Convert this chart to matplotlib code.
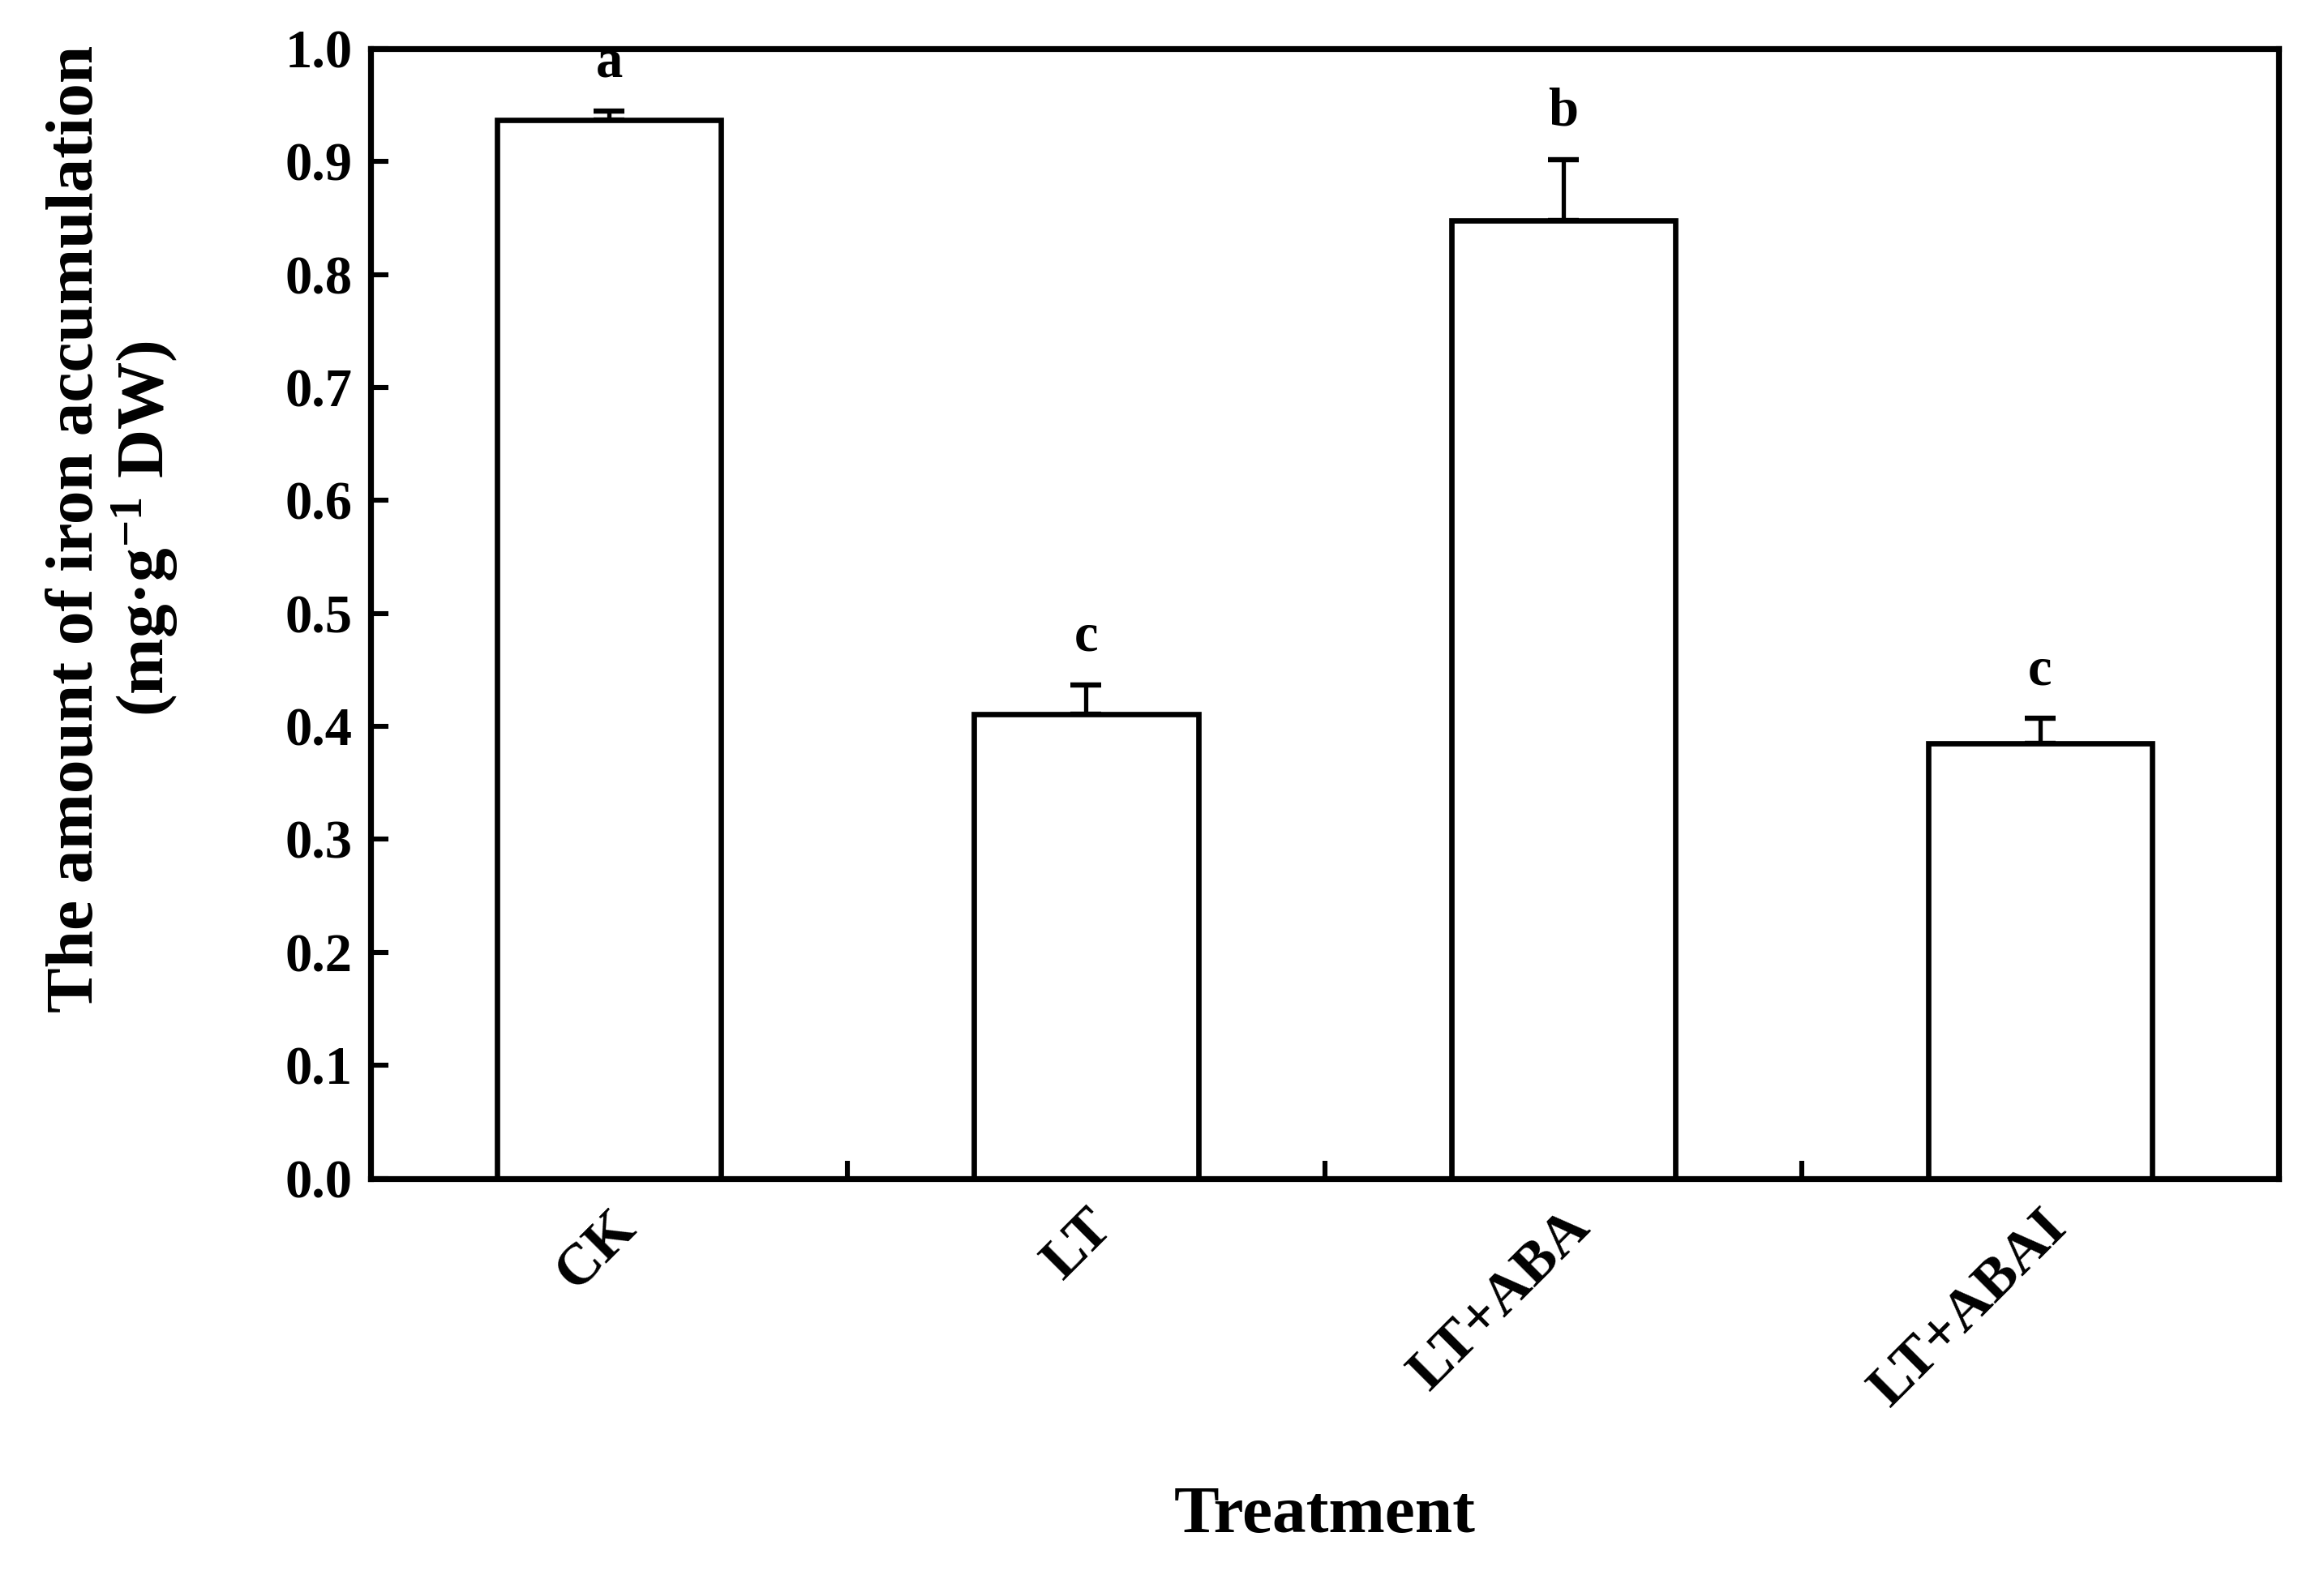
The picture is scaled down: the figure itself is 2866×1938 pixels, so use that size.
import numpy as np
from matplotlib import pyplot as plt

# data
treatments = ['CK', 'LT', 'LT+ABA', 'LT+ABAI']
iron = [0.937, 0.411, 0.848, 0.385]
err = [0.008, 0.026, 0.054, 0.022]
letters = ['a', 'c', 'b', 'c']

plt.rcParams['font.family'] = ['Liberation Serif', 'DejaVu Serif']
plt.rcParams['font.weight'] = 'bold'
plt.rcParams['mathtext.fontset'] = 'custom'
plt.rcParams['mathtext.rm'] = 'Liberation Serif:bold'
plt.rcParams['mathtext.it'] = 'Liberation Serif:bold'
plt.rcParams['mathtext.bf'] = 'Liberation Serif:bold'

fig = plt.figure(figsize=(14.33, 9.69), dpi=200)
ax = fig.add_axes([0.1595, 0.25, 0.821, 0.719])

x = np.arange(len(treatments))
ax.bar(x, iron, width=0.47, color='white', edgecolor='black', linewidth=2.4, zorder=2)
ax.errorbar(x, iron, yerr=[np.zeros(len(err)), err], fmt='none', ecolor='black',
            elinewidth=1.9, capsize=7, capthick=2.3, zorder=1)

for xi, m, e, l in zip(x, iron, err, letters):
    ax.text(xi, m + e + 0.02, l, ha='center', va='bottom', fontsize=24, fontweight='bold')

ax.set_xlim(-0.5, 3.5)
ax.set_ylim(0, 1.0)
ax.set_yticks(np.arange(0, 1.01, 0.1))
ax.set_yticklabels([f'{v:.1f}' for v in np.arange(0, 1.01, 0.1)], fontsize=24, fontweight='bold')

# category ticks between bars, labels at bar centres
ax.set_xticks([0.5, 1.5, 2.5])
ax.set_xticklabels([])
ax.set_xticks(x, minor=True)
ax.set_xticklabels(treatments, minor=True, rotation=45, ha='right', va='top',
                   rotation_mode='anchor', fontsize=26, fontweight='bold')
ax.tick_params(axis='x', which='minor', length=0, pad=10)
ax.tick_params(axis='x', which='major', direction='in', length=8, width=2.2)
ax.tick_params(axis='y', direction='in', length=8, width=2.2, pad=8)

for s in ax.spines.values():
    s.set_linewidth(2.6)

ax.set_xlabel('Treatment', fontsize=30, fontweight='bold')
ax.xaxis.set_label_coords(0.5, -0.272)
ax.set_ylabel('The amount of iron accumulation\n(mg·g$^{-1}$ DW)', fontsize=30,
              fontweight='bold', linespacing=1.05)
ax.yaxis.set_label_coords(-0.1, 0.575)

fig.savefig('out.png', dpi=200)
